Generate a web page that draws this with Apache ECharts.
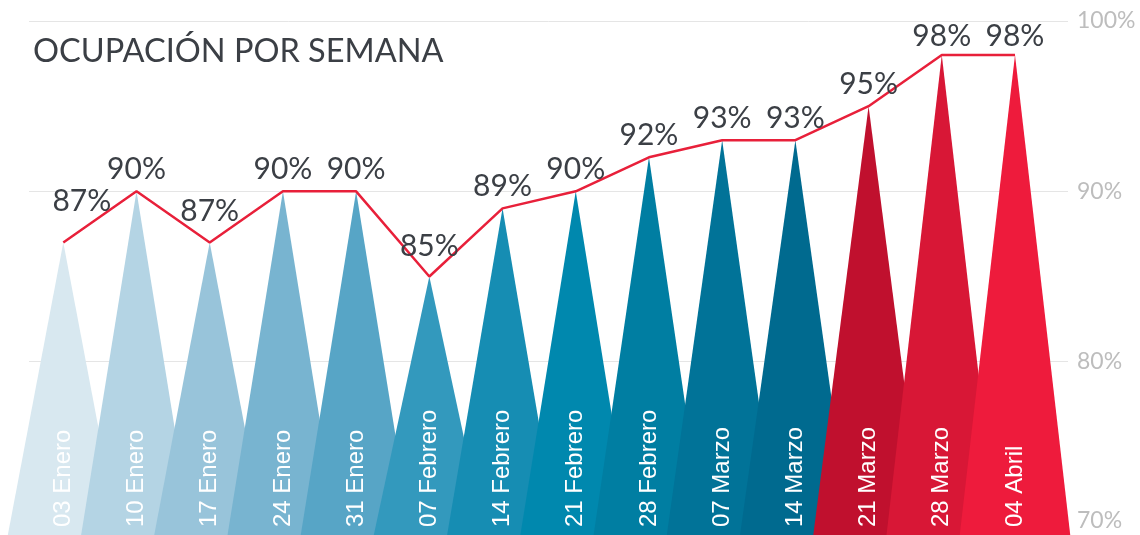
<!DOCTYPE html>
<html>
<head>
<meta charset="utf-8">
<script src="https://cdn.jsdelivr.net/npm/echarts@6/dist/echarts.min.js"></script>
<style>
html,body{margin:0;padding:0;background:#fff;}
#chart{width:1140px;height:535px;}
</style>
</head>
<body>
<div id="chart"></div>
<script>
const categories = ['03 Enero','10 Enero','17 Enero','24 Enero','31 Enero','07 Febrero','14 Febrero','21 Febrero','28 Febrero','07 Marzo','14 Marzo','21 Marzo','28 Marzo','04 Abril'];
const occupancy = [87, 90, 87, 90, 90, 85, 89, 90, 92, 93, 93, 95, 98, 98];
const barColors = ['#d8e8f0','#b4d4e4','#98c4da','#78b4d0','#57a5c6','#3399bd','#168db3','#0088ae','#007ea2','#017398','#006a8f','#c0102e','#d81736','#ee1b3c'];
const yTicks = [70, 80, 90, 100];

const chart = echarts.init(document.getElementById('chart'), null, {renderer: 'canvas'});

// label nudges (layout only)
const labelNudge = { 0: [18.5, -19.5], 2: [0, -9], 5: [0, -8], 12: [0, 3], 13: [0, 3] };

chart.setOption({
  backgroundColor: '#fff',
  animation: false,
  title: {
    text: 'OCUPACIÓN POR SEMANA',
    left: 28, top: 30,
    textStyle: { fontFamily: 'Lato', fontWeight: 'normal', fontSize: 32.5, color: '#3b3f45' }
  },
  grid: [
    { left: 29, right: 72, top: 21, bottom: 3 },
    { left: 26.7, right: 88.4, top: 21, bottom: 3 }
  ],
  xAxis: [
    { gridIndex: 0, type: 'value', show: false },
    {
      gridIndex: 1, type: 'category', data: categories, z: 10,
      axisLine: { show: false }, axisTick: { show: false },
      axisLabel: {
        inside: true, rotate: 90, interval: 0, margin: 5,
        color: '#ffffff', fontSize: 24, fontFamily: 'Liberation Sans'
      }
    }
  ],
  yAxis: [
    {
      gridIndex: 0, type: 'value', position: 'right',
      min: yTicks[0], max: yTicks[yTicks.length - 1], interval: 10,
      axisLine: { show: false }, axisTick: { show: false },
      splitLine: { lineStyle: { color: '#e5e5e5', width: 1 } },
      axisLabel: {
        margin: 9, color: '#bdbdbd', fontSize: 23, fontFamily: 'Lato',
        formatter: v => v === yTicks[0] ? '{low|' + v + '%}' : v + '%',
        rich: { low: { color: '#bdbdbd', fontSize: 23, fontFamily: 'Lato', padding: [0, 0, 22, 0] } }
      }
    },
    {
      gridIndex: 1, type: 'value', show: false,
      min: yTicks[0], max: yTicks[yTicks.length - 1]
    }
  ],
  series: [
    {
      type: 'custom',
      xAxisIndex: 1, yAxisIndex: 1,
      data: occupancy.map((v, i) => [i, v]),
      encode: { x: 0, y: 1 },
      clip: false,
      renderItem: function (params, api) {
        const top = api.coord([api.value(0), api.value(1)]);
        const base = api.coord([api.value(0), yTicks[0]]);
        const half = api.size([1, 0])[0] * 0.75;
        const ext = 4;
        const h = base[1] - top[1];
        const halfExt = half * (h + ext) / h;
        const by = base[1] + ext;
        return {
          type: 'polygon',
          shape: { points: [[top[0] - halfExt, by], [top[0], top[1]], [top[0] + halfExt, by]] },
          style: { fill: barColors[params.dataIndex] }
        };
      },
      z: 2
    },
    {
      type: 'line',
      xAxisIndex: 1, yAxisIndex: 1,
      data: occupancy,
      showSymbol: true,
      symbol: 'circle',
      symbolSize: 0.1,
      lineStyle: { color: '#e8203a', width: 2.5 },
      itemStyle: { color: '#e8203a' },
      label: {
        show: true, position: 'top', distance: 7,
        formatter: p => p.value + '%',
        fontFamily: 'Lato', fontSize: 30, color: '#3b3f45'
      },
      labelLayout: function (params) {
        const n = labelNudge[params.dataIndex];
        return n ? { dx: n[0], dy: n[1], hideOverlap: false } : { hideOverlap: false };
      },
      z: 3
    }
  ]
});
</script>
</body>
</html>
